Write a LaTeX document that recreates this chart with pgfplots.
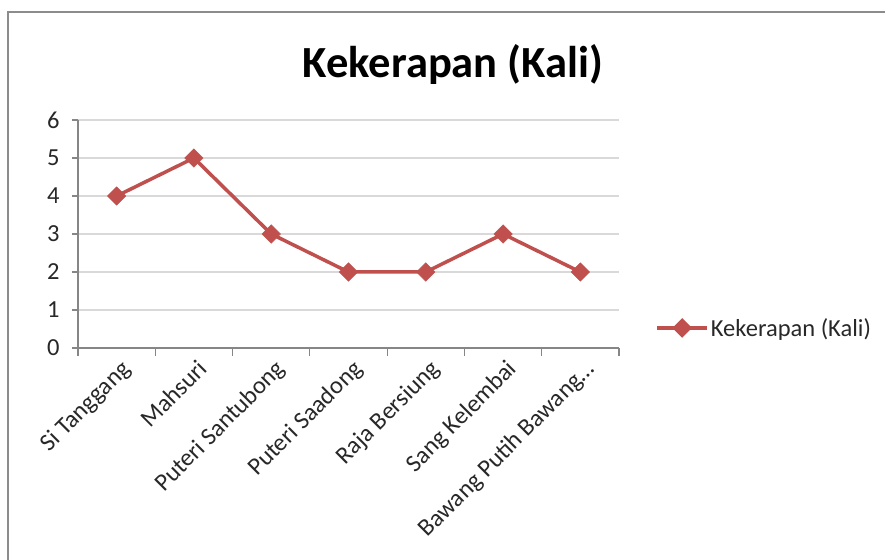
\documentclass[border=0pt]{standalone}
\usepackage{fontspec}
\setmainfont{Carlito}
\usepackage{pgfplots}
\pgfplotsset{compat=1.18}
\definecolor{exred}{RGB}{192,80,77}
\definecolor{gridc}{RGB}{217,217,217}
\definecolor{axc}{RGB}{134,134,134}
\definecolor{frame}{RGB}{140,140,140}
\definecolor{txt}{RGB}{40,40,40}
\begin{document}
\begin{tikzpicture}
\useasboundingbox (0,0) rectangle (885pt,559pt);
\fill[white] (0,0) rectangle (885pt,559pt);
\draw[line width=2.5pt, frame] (8pt,-5pt) -- (8pt,547pt) -- (890pt,547pt);
\node[anchor=base, font=\fontsize{44.5}{50}\selectfont\bfseries] at (453pt,481pt) {Kekerapan (Kali)};
\begin{axis}[
  at={(78pt,211pt)}, anchor=south west, scale only axis,
  width=541pt, height=228pt,
  xmin=0.5, xmax=7.5, ymin=0, ymax=6,
  xtick={1,2,3,4,5,6,7},
  xticklabels={{Si Tanggang}, {Mahsuri}, {Puteri Santubong}, {Puteri Saadong}, {Raja Bersiung}, {Sang Kelembai}, {Bawang Putih Bawang\ldots}},
  minor xtick={0.5,1.5,2.5,3.5,4.5,5.5,6.5,7.5},
  major x tick style={draw=none},
  minor x tick style={draw=axc, line width=1.2pt},
  minor tick length=8pt,
  major tick length=6pt,
  ytick={0,1,2,3,4,5,6},
  ymajorgrids, grid style={gridc, line width=1.3pt},
  axis x line*=bottom, axis y line*=left,
  tick align=outside,
  tick style={axc, line width=1.2pt},
  axis line style={axc, line width=1.2pt},
  /pgf/number format/assume math mode=true,
  ticklabel style={font=\fontsize{24.5}{28}\selectfont, text=txt},
  xticklabel style={rotate=45, anchor=north east, inner sep=2pt, xshift=1pt, yshift=-3pt},
  yticklabel style={xshift=-9pt},
  legend style={at={(1.067,0.088)}, anchor=west, draw=none, fill=none,
    font=\fontsize{24.5}{28}\selectfont, text=txt, inner sep=0pt},
  legend image code/.code={%
    \draw[#1, mark=none] (0pt,0pt) -- (50pt,0pt);
    \draw[#1, mark options={rotate=45, fill=exred, draw=exred, scale=0.8}] plot coordinates {(25pt,0pt)};},
]
\addplot[color=exred, line width=3.5pt, mark=square*, mark size=6.5pt,
  mark options={rotate=45, fill=exred, draw=exred, line width=0.5pt}]
  coordinates {(1,4) (2,5) (3,3) (4,2) (5,2) (6,3) (7,2)};
\addlegendentry{Kekerapan (Kali)}
\end{axis}
\end{tikzpicture}
\end{document}
